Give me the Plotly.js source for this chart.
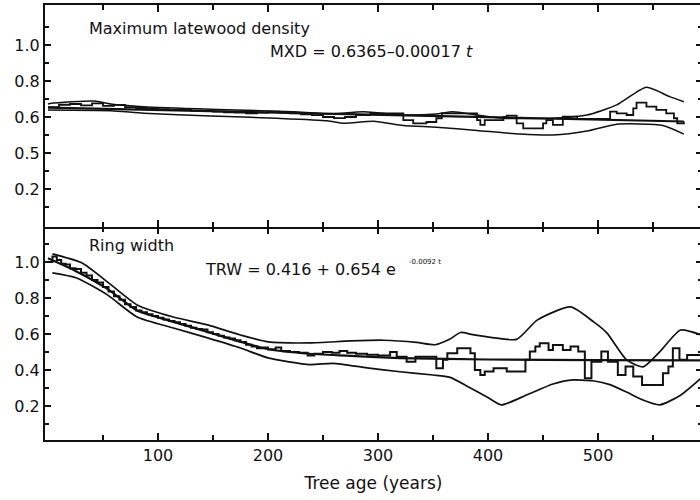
<!DOCTYPE html>
<html>
<head>
<meta charset="utf-8">
<script src="https://cdn.plot.ly/plotly-3.0.1.min.js"></script>
<style>
html,body{margin:0;padding:0;overflow:hidden;background:#fff;}
#chart{width:702px;height:500px;}
</style>
</head>
<body>
<div id="chart"></div>
<script>
// ---------- Maximum latewood density (top panel) ----------
const mxdUpperAge = [0, 3, 42, 57, 87, 148, 194, 224, 254, 287, 323, 353, 368, 390, 414, 459, 490, 517, 544, 565, 578];
const mxdUpper    = [0.672, 0.676, 0.689, 0.672, 0.657, 0.643, 0.635, 0.629, 0.617, 0.629, 0.611, 0.617, 0.629, 0.611, 0.593, 0.593, 0.611, 0.667, 0.765, 0.713, 0.685];

const mxdLowerAge = [0, 57, 87, 148, 208, 254, 269, 296, 323, 353, 390, 429, 459, 490, 517, 559, 578];
const mxdLower    = [0.639, 0.635, 0.621, 0.606, 0.593, 0.579, 0.565, 0.576, 0.553, 0.543, 0.525, 0.505, 0.5, 0.522, 0.56, 0.553, 0.505];

const mxdFitAge = [0, 100, 200, 300, 400, 500, 578];
const mxdFit    = [0.652, 0.638, 0.625, 0.612, 0.598, 0.585, 0.575];

const mxdStepAge = [0, 10, 20, 30, 40, 50, 60, 70, 80, 90, 100, 110, 120, 130, 140, 150, 160, 170, 180, 190, 200, 210, 220, 230, 240, 250, 260, 270, 280, 293, 323, 332, 344, 353, 358, 390, 393, 397, 414, 417, 426, 432, 450, 453, 459, 468, 481, 511, 517, 526, 532, 535, 544, 553, 562, 569, 572, 578];
const mxdStep    = [0.655, 0.668, 0.672, 0.665, 0.676, 0.662, 0.667, 0.655, 0.65, 0.646, 0.644, 0.641, 0.64, 0.635, 0.632, 0.63, 0.626, 0.624, 0.62, 0.624, 0.63, 0.625, 0.62, 0.615, 0.61, 0.6, 0.594, 0.6, 0.61, 0.62, 0.583, 0.565, 0.572, 0.593, 0.62, 0.583, 0.556, 0.583, 0.6, 0.607, 0.565, 0.537, 0.565, 0.583, 0.556, 0.602, 0.59, 0.63, 0.62, 0.611, 0.648, 0.68, 0.657, 0.639, 0.62, 0.593, 0.565, 0.575];

// ---------- Ring width (bottom panel) ----------
const trwUpperAge = [4, 31, 54, 81, 114, 145, 175, 200, 238, 275, 305, 335, 352, 365, 375, 386, 404, 426, 445, 475, 496, 508, 526, 541, 556, 575, 594];
const trwUpper    = [1.045, 0.994, 0.889, 0.761, 0.694, 0.65, 0.594, 0.556, 0.55, 0.561, 0.565, 0.553, 0.54, 0.57, 0.608, 0.596, 0.58, 0.57, 0.678, 0.75, 0.667, 0.606, 0.456, 0.417, 0.5, 0.622, 0.594];

const trwLowerAge = [4, 26, 54, 81, 114, 145, 175, 200, 238, 259, 290, 320, 350, 365, 381, 399, 412, 435, 459, 475, 495, 510, 525, 540, 556, 575, 594];
const trwLower    = [0.939, 0.911, 0.817, 0.694, 0.633, 0.578, 0.522, 0.467, 0.43, 0.437, 0.412, 0.39, 0.372, 0.36, 0.31, 0.25, 0.206, 0.261, 0.322, 0.344, 0.34, 0.32, 0.28, 0.235, 0.206, 0.26, 0.356];

const trwFitAge = [0, 25, 54, 81, 114, 145, 175, 200, 238, 275, 320, 400, 500, 594];
const trwFit    = [1.02, 0.95, 0.85, 0.73, 0.667, 0.611, 0.556, 0.515, 0.49, 0.478, 0.466, 0.458, 0.455, 0.453];

const trwStepAge = [0, 4, 8, 12, 16, 20, 25, 30, 35, 40, 45, 50, 55, 60, 65, 70, 75, 80, 85, 90, 95, 100, 105, 110, 115, 120, 125, 130, 135, 140, 145, 150, 155, 160, 165, 170, 175, 180, 185, 190, 195, 200, 207, 212, 220, 228, 236, 242, 250, 258, 265, 272, 280, 290, 300, 311, 317, 326, 334, 353, 359, 363, 372, 384, 388, 393, 397, 405, 417, 434, 438, 443, 447, 455, 459, 468, 475, 482, 488, 494, 503, 509, 518, 525, 532, 540, 559, 564, 568, 574, 581, 594];
const trwStep    = [1.0, 1.03, 1.01, 0.99, 0.985, 0.965, 0.96, 0.94, 0.925, 0.9, 0.885, 0.86, 0.835, 0.81, 0.79, 0.765, 0.75, 0.73, 0.72, 0.71, 0.7, 0.69, 0.68, 0.672, 0.665, 0.655, 0.645, 0.635, 0.628, 0.625, 0.61, 0.6, 0.59, 0.58, 0.575, 0.565, 0.555, 0.54, 0.53, 0.52, 0.525, 0.515, 0.525, 0.505, 0.5, 0.495, 0.48, 0.49, 0.5, 0.495, 0.505, 0.495, 0.49, 0.485, 0.48, 0.5, 0.474, 0.446, 0.474, 0.41, 0.456, 0.493, 0.52, 0.493, 0.4, 0.372, 0.391, 0.41, 0.391, 0.456, 0.502, 0.53, 0.548, 0.511, 0.539, 0.511, 0.53, 0.502, 0.354, 0.446, 0.502, 0.446, 0.372, 0.419, 0.363, 0.317, 0.381, 0.419, 0.52, 0.456, 0.483, 0.483];

// ---------- Axis ticks ----------
const xTickVals = [100, 200, 300, 400, 500];
const xTickText = ['100', '200', '300', '400', '500'];
const xMinorVals = [50, 150, 250, 350, 450, 550];
const yTickVals = [0.2, 0.4, 0.6, 0.8, 1.0];
const yTopTickText = ['0.2', '0.5', '0.6', '0.8', '1.0'];
const yBotTickText = ['0.2', '0.4', '0.6', '0.8', '1.0'];
const yMinorVals = [0.1, 0.3, 0.5, 0.7, 0.9, 1.1];

const FONT = 'DejaVu Sans, Liberation Sans, Arial, sans-serif';
const black = '#111';

function line(x, y, xa, ya, w, shape) {
  return {x: x, y: y, xaxis: xa, yaxis: ya, type: 'scatter', mode: 'lines',
          line: {color: black, width: w, shape: shape || 'spline', smoothing: 0.6},
          hoverinfo: 'skip', showlegend: false};
}

const data = [
  line(mxdUpperAge, mxdUpper, 'x2', 'y2', 1.5),
  line(mxdLowerAge, mxdLower, 'x2', 'y2', 1.5),
  line(mxdFitAge, mxdFit, 'x2', 'y2', 2.2, 'linear'),
  line(mxdStepAge, mxdStep, 'x2', 'y2', 1.8, 'hv'),
  line(trwUpperAge, trwUpper, 'x', 'y', 1.7),
  line(trwLowerAge, trwLower, 'x', 'y', 1.7),
  line(trwFitAge, trwFit, 'x', 'y', 2.2),
  line(trwStepAge, trwStep, 'x3', 'y', 2.0, 'hv')
];

const xBase = {
  range: [-2.73, 594.5], tickmode: 'array', tickvals: xTickVals, ticktext: xTickText,
  ticks: 'inside', ticklen: 7, tickwidth: 1.5, tickcolor: black,
  minor: {tickmode: 'array', tickvals: xMinorVals, ticks: 'inside', ticklen: 5, tickwidth: 1.5, tickcolor: black},
  linewidth: 2, linecolor: black,
  showgrid: false, zeroline: false,
  tickfont: {family: FONT, size: 16, color: black}
};
const yBase = {
  tickmode: 'array', tickvals: yTickVals,
  ticks: 'inside', ticklen: 6, tickwidth: 1.5, tickcolor: black,
  minor: {tickmode: 'array', tickvals: yMinorVals, ticks: 'inside', ticklen: 4, tickwidth: 1.5, tickcolor: black},
  showline: true, linewidth: 2, linecolor: black, mirror: 'ticks',
  showgrid: false, zeroline: false,
  tickfont: {family: FONT, size: 16, color: black}
};

const layout = {
  width: 702, height: 500,
  margin: {l: 45, r: 0, t: 5, b: 60},
  paper_bgcolor: '#fff', plot_bgcolor: '#fff',
  font: {family: FONT, color: black, size: 16},
  showlegend: false,
  // bottom panel: bottom axis line with labels
  xaxis: Object.assign({}, xBase, {anchor: 'y', domain: [0, 1], showline: true, mirror: false,
    title: {text: 'Tree age (years)', font: {family: FONT, size: 17, color: black}, standoff: 13}}),
  // top panel: divider line (bottom) + frame top, ticks on both
  xaxis2: Object.assign({}, xBase, {anchor: 'y2', domain: [0, 1], matches: 'x', showticklabels: false,
    showline: true, mirror: 'ticks'}),
  // bottom panel: ticks hanging down from the divider (no extra line)
  xaxis3: Object.assign({}, xBase, {anchor: 'y', overlaying: 'x', side: 'top', matches: 'x',
    showticklabels: false, showline: false}),
  yaxis: Object.assign({}, yBase, {anchor: 'x', domain: [0, 0.4897], range: [0.011, 1.194], ticktext: yBotTickText}),
  yaxis2: Object.assign({}, yBase, {anchor: 'x2', domain: [0.4897, 1], range: [-0.011, 1.222], ticktext: yTopTickText}),
  annotations: [
    {text: 'Maximum latewood density', xref: 'paper', yref: 'paper', x: 0.064, y: 0.945,
     xanchor: 'left', yanchor: 'middle', showarrow: false, font: {family: FONT, size: 16, color: black}},
    {text: 'MXD = 0.6365\u20130.00017 <i>t</i>', xref: 'paper', yref: 'paper', x: 0.339, y: 0.892,
     xanchor: 'left', yanchor: 'middle', showarrow: false, font: {family: FONT, size: 16, color: black}},
    {text: 'Ring width', xref: 'paper', yref: 'paper', x: 0.064, y: 0.446,
     xanchor: 'left', yanchor: 'middle', showarrow: false, font: {family: FONT, size: 16, color: black}},
    {text: 'TRW = 0.416 + 0.654 e', xref: 'paper', yref: 'paper', x: 0.24, y: 0.391,
     xanchor: 'left', yanchor: 'middle', showarrow: false, font: {family: FONT, size: 16, color: black}},
    {text: '-0.0092 t', xref: 'paper', yref: 'paper', x: 0.551, y: 0.409,
     xanchor: 'left', yanchor: 'middle', showarrow: false, font: {family: FONT, size: 7, color: black}}
  ]
};

Plotly.newPlot('chart', data, layout, {staticPlot: true, displayModeBar: false});
</script>
</body>
</html>
